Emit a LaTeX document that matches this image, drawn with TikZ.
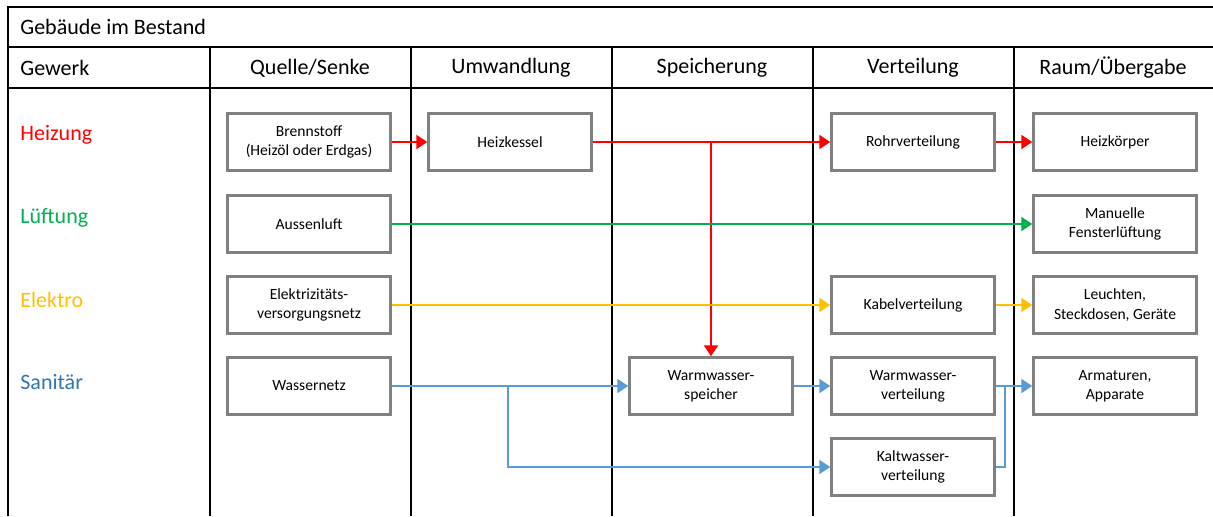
\documentclass[tikz,border=0pt]{standalone}
\usepackage{fontspec}
\setmainfont{Carlito}
\usetikzlibrary{arrows.meta}
\definecolor{heatRed}{HTML}{FF0000}
\definecolor{airGreen}{HTML}{00B050}
\definecolor{elecAmber}{HTML}{FFC000}
\definecolor{waterBlue}{HTML}{5B9BD5}
\definecolor{labelBlue}{HTML}{2E75B6}
\definecolor{boxGray}{HTML}{808080}

\begin{document}
\begin{tikzpicture}[
    x=0.5pt, y=-0.5pt,
    block/.style={rectangle, draw=boxGray, line width=1.25pt, fill=white, minimum width=81.5pt, minimum height=28.5pt, inner sep=1pt, align=center, font=\fontsize{7.8}{9.6}\selectfont},
    head/.style={font=\fontsize{11}{13}\selectfont, inner sep=0pt},
    grid/.style={line width=1.25pt, black},
    arrow/.style={-{Triangle[length=5.5pt, width=7pt]}, line width=1.1pt}
]
\useasboundingbox (0,0) rectangle (1213,516);

\draw[grid] (8,516) -- (8,7) -- (1213,7);
\draw[grid] (8,47) -- (1213,47);
\draw[grid] (8,88) -- (1213,88);
\foreach \xc in {210,411,612,813,1014} {
  \draw[grid] (\xc,47) -- (\xc,516);
}

\node[head, anchor=west] (titel) at (20,27) {Gebäude im Bestand};
\node[head, anchor=west] (gewerk) at (20,68) {Gewerk};
\node[head] (quelle) at (310,68) {Quelle/Senke};
\node[head] (umwandlung) at (511,68) {Umwandlung};
\node[head] (speicherung) at (712,68) {Speicherung};
\node[head] (verteilung) at (913,68) {Verteilung};
\node[head] (raum) at (1113,68) {Raum/Übergabe};

\node[head, anchor=west, text=heatRed] (heizung) at (20,135) {Heizung};
\node[head, anchor=west, text=airGreen] (lueftung) at (20,218) {Lüftung};
\node[head, anchor=west, text=elecAmber] (elektro) at (20,300) {Elektro};
\node[head, anchor=west, text=labelBlue] (sanitaer) at (20,382) {Sanitär};

\node[block] (brennstoff) at (309,142) {Brennstoff\\(Heizöl oder Erdgas)};
\node[block] (kessel) at (510,142) {Heizkessel};
\node[block] (rohr) at (913,142) {Rohrverteilung};
\node[block] (heizkoerper) at (1115,142) {Heizkörper};

\node[block] (aussenluft) at (309,224) {Aussenluft};
\node[block] (fenster) at (1115,224) {Manuelle\\Fensterlüftung};

\node[block] (stromnetz) at (309,305) {Elektrizitäts-\\versorgungsnetz};
\node[block] (kabel) at (913,305) {Kabelverteilung};
\node[block] (leuchten) at (1115,305) {Leuchten,\\Steckdosen, Geräte};

\node[block] (wassernetz) at (309,386) {Wassernetz};
\node[block] (speicher) at (711,386) {Warmwasser-\\speicher};
\node[block] (wwvert) at (913,386) {Warmwasser-\\verteilung};
\node[block] (armaturen) at (1115,386) {Armaturen,\\Apparate};
\node[block] (kwvert) at (913,467) {Kaltwasser-\\verteilung};

\coordinate (kaltabzweig) at (508,386);
\coordinate (sammel) at (1005,386);

\draw[arrow, color=heatRed] (brennstoff) -- (kessel);
\draw[arrow, color=heatRed] (kessel) -- (rohr);
\draw[arrow, color=heatRed] (kessel.east -| speicher.north) -- (speicher.north);
\draw[arrow, color=heatRed] (rohr) -- (heizkoerper);
\draw[arrow, color=airGreen] (aussenluft) -- (fenster);
\draw[arrow, color=elecAmber] (stromnetz) -- (kabel);
\draw[arrow, color=elecAmber] (kabel) -- (leuchten);
\draw[arrow, color=waterBlue] (wassernetz) -- (speicher);
\draw[arrow, color=waterBlue] (kaltabzweig) |- (kwvert);
\draw[arrow, color=waterBlue] (speicher) -- (wwvert);
\draw[arrow, color=waterBlue] (wwvert) -- (armaturen);
\draw[line width=1.1pt, color=waterBlue] (kwvert.east) -| (sammel);

\end{tikzpicture}
\end{document}
